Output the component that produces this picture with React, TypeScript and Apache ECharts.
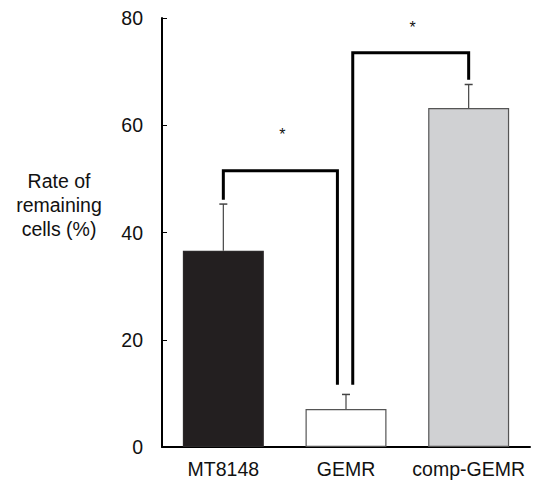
import React, { useEffect, useRef } from "react";
import * as echarts from "echarts";

const categories = ["MT8148", "GEMR", "comp-GEMR"];
const means = [36.6, 7.1, 63.2];
const errors = [8.7, 2.7, 4.4];
const barColors = ["#231f20", "#ffffff", "#d0d1d3"];
const yTicks = [0, 20, 40, 60, 80];

const bracketFrom = [0, 1];
const bracketTo = [1, 2];
const bracketFromBottom = [46.1, 11.6];
const bracketToBottom = [11.6, 68.5];
const bracketTop = [51.5, 73.5];
const starLevel = [58.2, 78.2];
const starText = ["*", "*"];

export default function App() {
  const ref = useRef<HTMLDivElement>(null);
  useEffect(() => {
    document.body.style.margin = "0";
    const chart = echarts.init(ref.current!, null, { renderer: "svg" });
    const legOffsets = [
      [0, -0.07],
      [0.055, 0],
    ];
    const font = "'Liberation Sans', Arial, sans-serif";
    const option: any = {
      animation: false,
      backgroundColor: "#ffffff",
      grid: { left: 162, right: 11, top: 18, bottom: 37, containLabel: false },
      xAxis: {
        type: "category",
        data: categories,
        axisLine: { lineStyle: { color: "#000", width: 2 } },
        axisTick: { show: false },
        axisLabel: { color: "#111", fontSize: 19.5, fontFamily: font, margin: 12, interval: 0, hideOverlap: false },
      },
      yAxis: {
        type: "value",
        min: yTicks[0],
        max: yTicks[yTicks.length - 1],
        interval: 20,
        axisLine: { show: true, lineStyle: { color: "#000", width: 2 } },
        axisTick: { show: true, inside: true, length: 5, lineStyle: { color: "#000", width: 1 } },
        splitLine: { show: false },
        axisLabel: { color: "#111", fontSize: 19.5, fontFamily: font, margin: 19 },
      },
      graphic: [
        {
          type: "text",
          x: 59,
          y: 205,
          style: {
            text: "Rate of\nremaining\ncells (%)",
            fill: "#111",
            fontSize: 19.5,
            fontFamily: font,
            align: "center",
            verticalAlign: "middle",
            lineHeight: 24,
          },
        },
      ],
      series: [
        {
          type: "bar",
          barWidth: "66%",
          data: means.map((v, i) => ({
            value: v,
            itemStyle: { color: barColors[i], borderColor: i === 0 ? "#2b2829" : "#555", borderWidth: 1.2 },
          })),
          z: 2,
        },
        {
          type: "custom",
          z: 3,
          data: means.map((m, i) => [i, m, m + errors[i]]),
          renderItem: (params: any, api: any) => {
            const x = api.value(0);
            const p0 = api.coord([x, api.value(1)]);
            const p1 = api.coord([x, api.value(2)]);
            return {
              type: "group",
              children: [
                {
                  type: "line",
                  shape: { x1: p0[0], y1: p0[1], x2: p1[0], y2: p1[1] },
                  style: { stroke: "#444", lineWidth: 1.2 },
                },
                {
                  type: "line",
                  shape: { x1: p1[0] - 4, y1: p1[1], x2: p1[0] + 4, y2: p1[1] },
                  style: { stroke: "#444", lineWidth: 1.5 },
                },
              ],
            };
          },
        },
        {
          type: "custom",
          z: 4,
          data: bracketFrom.map((f, i) => [f, bracketTo[i], bracketFromBottom[i], bracketToBottom[i], bracketTop[i], starLevel[i]]),
          renderItem: (params: any, api: any) => {
            const i = params.dataIndex;
            const band = api.size([1, 0])[0];
            const a = api.coord([api.value(0), api.value(2)]);
            const b = api.coord([api.value(1), api.value(3)]);
            const t = api.coord([api.value(0), api.value(4)]);
            const s = api.coord([api.value(0), api.value(5)]);
            const xa = a[0] + legOffsets[i][0] * band;
            const xb = b[0] + legOffsets[i][1] * band;
            return {
              type: "group",
              children: [
                {
                  type: "polyline",
                  shape: { points: [[xa, a[1]], [xa, t[1]], [xb, t[1]], [xb, b[1]]] },
                  style: { stroke: "#000", lineWidth: 3, fill: null, lineJoin: "miter" },
                },
                {
                  type: "text",
                  x: (xa + xb) / 2 + 2,
                  y: s[1],
                  style: {
                    text: starText[i],
                    fill: "#111",
                    fontSize: 16,
                    fontFamily: font,
                    align: "center",
                    verticalAlign: "middle",
                  },
                },
              ],
            };
          },
        },
      ],
    };
    chart.setOption(option);
    return () => chart.dispose();
  }, []);
  return <div ref={ref} style={{ width: 541, height: 484 }} />;
}
